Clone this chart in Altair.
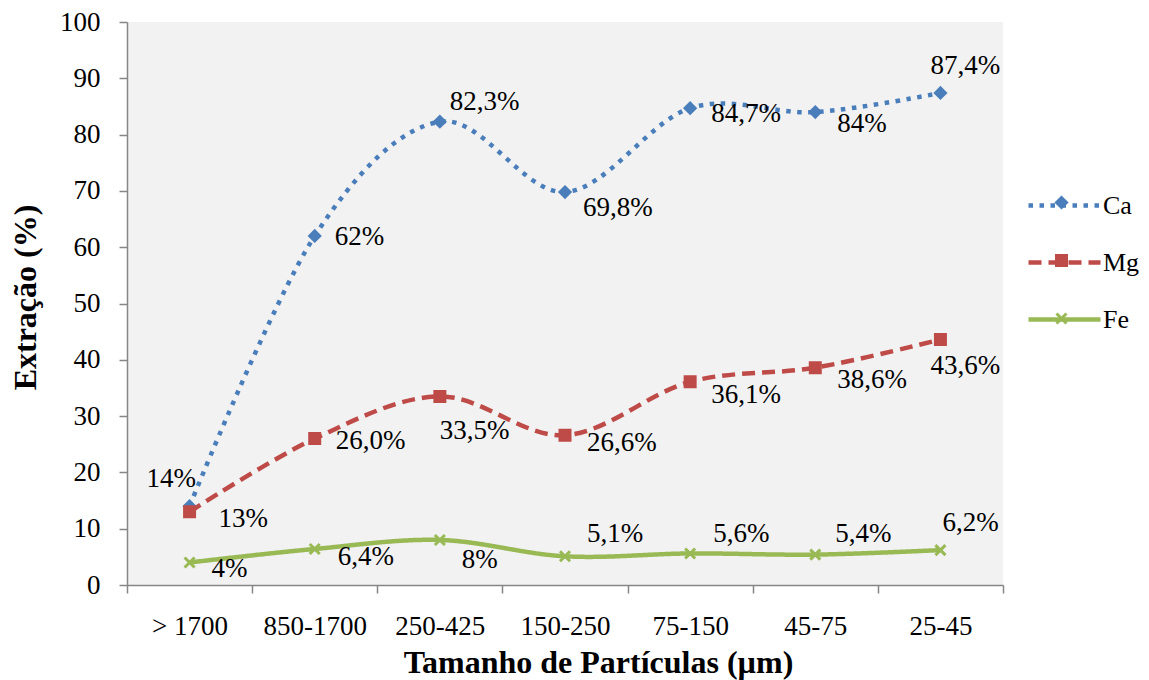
import altair as alt
import pandas as pd

categories = ["> 1700", "850-1700", "250-425", "150-250", "75-150", "45-75", "25-45"]
series_names = ["Ca", "Mg", "Fe"]
marker_keys = ["Ca marker", "Mg marker", "Fe marker"]
ca_values = [14, 62, 82.3, 69.8, 84.7, 84, 87.4]
mg_values = [13, 26.0, 33.5, 26.6, 36.1, 38.6, 43.6]
fe_values = [4, 6.4, 8, 5.1, 5.6, 5.4, 6.2]
ca_labels = ["14%", "62%", "82,3%", "69,8%", "84,7%", "84%", "87,4%"]
mg_labels = ["13%", "26,0%", "33,5%", "26,6%", "36,1%", "38,6%", "43,6%"]
fe_labels = ["4%", "6,4%", "8%", "5,1%", "5,6%", "5,4%", "6,2%"]

# label placement offsets (pixels, relative to the point)
ca_dx = [-43, 20, 10, 18, 21, 22, -10]
ca_dy = [-27, 1, -20, 16, 6, 12, -27]
mg_dx = [29, 21, 0, 22, 21, 22, -10]
mg_dy = [7, 2, 35, 8, 13, 12, 26]
fe_dx = [22, 23, 22, 22, 23, 20, 2]
fe_dy = [7, 8, 20, -22, -19, -21, -27]

colors = ["#4a7ebb", "#be4b48", "#98b954"]
dashes = [[4.5, 6.5], [13, 7], [1, 0]]
shapes = ["diamond", "square", "M-1,-1L1,1M-1,1L1,-1"]
FONT = "Liberation Serif"

rows = []
offsets = []
for s, mk, vals, labs, dxs, dys in [
    ("Ca", marker_keys[0], ca_values, ca_labels, ca_dx, ca_dy),
    ("Mg", marker_keys[1], mg_values, mg_labels, mg_dx, mg_dy),
    ("Fe", marker_keys[2], fe_values, fe_labels, fe_dx, fe_dy),
]:
    for c, v, l, dx, dy in zip(categories, vals, labs, dxs, dys):
        rows.append({"cat": c, "series": s, "series_m": mk, "value": v, "label": l, "rid": len(rows)})
        offsets.append((dx, dy))
df = pd.DataFrame(rows)

x_enc = alt.X(
    "cat:N",
    sort=categories,
    bandPosition=0.5,
    scale=alt.Scale(type="band", paddingInner=0, paddingOuter=0),
    axis=alt.Axis(
        title="Tamanho de Partículas (µm)",
        tickBand="extent",
        labelAngle=0,
        labelBaseline="middle",
        labelPadding=33,
        titleX=471,
        titleY=77,
        titleBaseline="middle",
    ),
)
y_enc = alt.Y(
    "value:Q",
    scale=alt.Scale(domain=[0, 100], nice=False),
    axis=alt.Axis(
        title="Extração (%)",
        values=list(range(0, 101, 10)),
        labelPadding=19,
        titleX=-102,
        titleY=275,
        titleAlign="center",
        titleBaseline="middle",
    ),
)

base = alt.Chart(df)

line_legend = alt.Legend(
    title=None,
    orient="none",
    legendX=899,
    legendY=145,
    symbolType="stroke",
    symbolSize=5184,
    symbolStrokeWidth=4.5,
    labelOffset=0,
    labelFontSize=26,
    rowPadding=5,
    padding=0,
)

lines = base.mark_line(interpolate="cardinal", strokeWidth=4.5, strokeCap="butt").encode(
    x=x_enc,
    y=y_enc,
    color=alt.Color(
        "series:N",
        scale=alt.Scale(domain=series_names, range=colors),
        legend=line_legend,
    ),
    strokeDash=alt.StrokeDash(
        "series:N", scale=alt.Scale(domain=series_names, range=dashes), legend=line_legend
    ),
)

marker_legend = alt.Legend(
    title=None,
    orient="none",
    legendX=921,
    legendY=167,
    symbolSize=100,
    symbolStrokeWidth=3,
    labelOffset=7,
    labelOpacity=0,
    labelFontSize=27,
    labelExpr="''",
    rowPadding=30,
    padding=0,
)

points = base.mark_point(filled=True, size=100, strokeWidth=3, opacity=1).encode(
    x=x_enc,
    y=y_enc,
    fill=alt.Fill("series_m:N", scale=alt.Scale(domain=marker_keys, range=colors), legend=marker_legend),
    stroke=alt.Stroke("series_m:N", scale=alt.Scale(domain=marker_keys, range=colors), legend=marker_legend),
    shape=alt.Shape("series_m:N", scale=alt.Scale(domain=marker_keys, range=shapes), legend=marker_legend),
)

layers = [lines, points]
for i, (dx, dy) in enumerate(offsets):
    layers.append(
        base.transform_filter(alt.datum.rid == i)
        .mark_text(align="left", baseline="middle", dx=dx, dy=dy, font=FONT, fontSize=27, color="#000000")
        .encode(x=x_enc, y=y_enc, text="label:N")
    )

chart = (
    alt.layer(*layers)
    .properties(
        width=876,
        height=563,
        autosize=alt.AutoSizeParams(type="none"),
        padding={"left": 119, "top": 14, "right": 138, "bottom": 95},
        background="#ffffff",
    )
    .configure_view(fill="#f2f2f2", strokeWidth=0)
    .configure_axis(
        grid=False,
        domainColor="#868686",
        domainWidth=1.5,
        tickColor="#868686",
        tickWidth=1.5,
        tickSize=8,
        labelFont=FONT,
        labelFontSize=27,
        labelColor="#000000",
        titleFont=FONT,
        titleFontSize=32,
        titleFontWeight="bold",
        titleColor="#000000",
    )
    .configure_legend(labelFont=FONT, labelFontSize=27, labelColor="#000000")
)

chart.save("out.html", embed_options={"renderer": "svg", "actions": False})
